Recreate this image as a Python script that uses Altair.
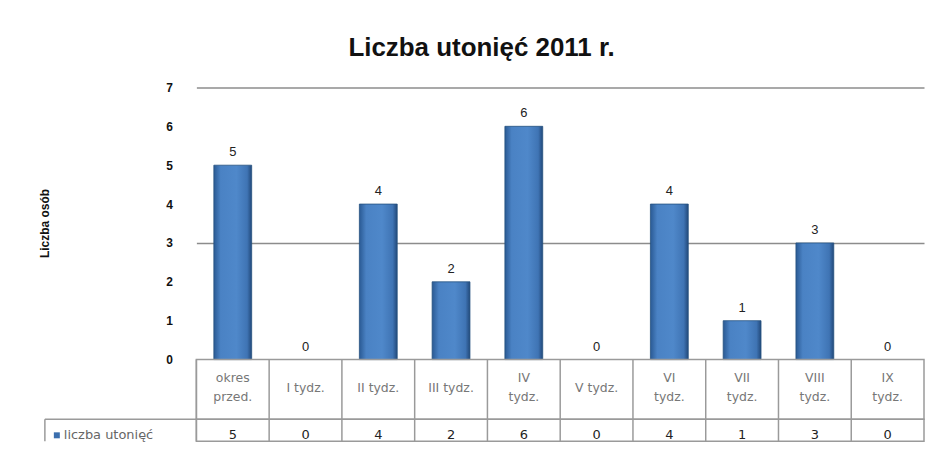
import altair as alt
import pandas as pd

TITLE = "Liczba utonięć 2011 r."
Y_TITLE = "Liczba osób"
SERIES = "liczba utonięć"
CATEGORIES = ["okres przed.", "I tydz.", "II tydz.", "III tydz.", "IV tydz.",
              "V tydz.", "VI tydz.", "VII tydz.", "VIII tydz.", "IX tydz."]
TABLE_LABELS = ["okres\nprzed.", "I tydz.", "II tydz.", "III tydz.", "IV\ntydz.",
                "V tydz.", "VI\ntydz.", "VII\ntydz.", "VIII\ntydz.", "IX\ntydz."]
VALUES = [5, 0, 4, 2, 6, 0, 4, 1, 3, 0]
Y_TICKS = [0, 1, 2, 3, 4, 5, 6, 7]
GRID_AT = [3, 7]

df = pd.DataFrame({"cat": CATEGORIES, "label": TABLE_LABELS, "value": VALUES})
legend_df = pd.DataFrame({"t": [SERIES]})

FONT = "Liberation Sans"
TFONT = "DejaVu Sans"
W = 730
LINE = "#9a9a9a"

grid_test = " || ".join(f"datum.value == {g}" for g in GRID_AT)

bar_x = alt.X("cat:N", sort=CATEGORIES, axis=None,
              scale=alt.Scale(paddingInner=0.48, paddingOuter=0.24))
bar_y = alt.Y("value:Q", scale=alt.Scale(domain=[0, 7], nice=False),
              axis=alt.Axis(values=Y_TICKS, title=Y_TITLE, grid=True,
                            gridColor={"condition": {"test": grid_test, "value": "#8c8c8c"},
                                       "value": "transparent"},
                            gridWidth=1.5, domain=False, ticks=False,
                            labelPadding=24, labelFontSize=12, labelFontWeight="bold",
                            labelColor="#111", labelFont=FONT,
                            titleFont=FONT, titleFontSize=12, titleFontWeight="bold",
                            titleColor="#111", titleX=-145, titleY=136))

grad = alt.Gradient(gradient="linear",
                    stops=[alt.GradientStop(color="#2a5a94", offset=0),
                           alt.GradientStop(color="#4a82c4", offset=0.18),
                           alt.GradientStop(color="#4f88ca", offset=0.6),
                           alt.GradientStop(color="#3f74b4", offset=0.88),
                           alt.GradientStop(color="#22497a", offset=1)],
                    x1=0, x2=1, y1=0, y2=0)

bars = alt.Chart(df).transform_filter("datum.value > 0").mark_bar(
    color=grad, stroke="#24507f", strokeWidth=0.8).encode(x=bar_x, y=bar_y)
bar_labels = alt.Chart(df).mark_text(baseline="bottom", dy=-6, fontSize=13,
                                     font=FONT, color="#222").encode(
    x=bar_x, y=bar_y, text="value:Q")

main = alt.layer(bars, bar_labels).properties(
    width=W, height=273, view=alt.ViewBackground(stroke="transparent"))

table_scale = alt.Scale(paddingInner=0, paddingOuter=0)
table_x = alt.X("cat:N", sort=CATEGORIES, scale=table_scale, axis=None)
sep_x = alt.X("cat:N", sort=CATEGORIES, scale=table_scale, axis=None, bandPosition=0)

LABEL_H = 60
VALUE_H = 22

sep1 = alt.Chart(df).mark_rule(color=LINE, strokeWidth=1.5).encode(
    x=sep_x, y=alt.value(0), y2=alt.value(LABEL_H))
single = alt.Chart(df).transform_filter("indexof(datum.label, '\\n') < 0").mark_text(
    fontSize=12.5, font=TFONT, color="#777", baseline="middle").encode(
    x=table_x, y=alt.value(29), text="label:N")
multi = alt.Chart(df).transform_filter("indexof(datum.label, '\\n') >= 0").mark_text(
    lineBreak="\n", fontSize=12.5, font=TFONT, color="#777", lineHeight=19,
    baseline="middle").encode(
    x=table_x, y=alt.value(19), text="label:N")

label_row = alt.layer(sep1, single, multi).properties(
    width=W, height=LABEL_H, view=alt.ViewBackground(stroke=LINE, strokeWidth=1.5))

sep2 = alt.Chart(df).mark_rule(color=LINE, strokeWidth=1.5).encode(
    x=sep_x, y=alt.value(0), y2=alt.value(VALUE_H))
vals = alt.Chart(df).mark_text(fontSize=13, font=TFONT, color="#222",
                               baseline="middle").encode(
    x=table_x, y=alt.value(16), text="value:Q")
leg_sq = alt.Chart(legend_df).mark_square(size=36, color="#3b6fae", opacity=1).encode(
    x=alt.value(-140), y=alt.value(16))
leg_txt = alt.Chart(legend_df).mark_text(align="left", baseline="middle", fontSize=13,
                                         font=TFONT, color="#666").encode(
    x=alt.value(-133), y=alt.value(16), text="t:N")
leg_top = alt.Chart(legend_df).mark_rule(color=LINE, strokeWidth=1.5).encode(
    x=alt.value(-152), x2=alt.value(0), y=alt.value(0))
leg_left = alt.Chart(legend_df).mark_rule(color=LINE, strokeWidth=1.5).encode(
    x=alt.value(-152), y=alt.value(0), y2=alt.value(VALUE_H))

value_row = alt.layer(sep2, vals, leg_sq, leg_txt, leg_top, leg_left).properties(
    width=W, height=VALUE_H, view=alt.ViewBackground(stroke=LINE, strokeWidth=1.5))

chart = alt.vconcat(main, label_row, value_row, spacing=0, bounds="flush").properties(
    title=alt.TitleParams(TITLE, font=FONT, fontSize=26, fontWeight="bold",
                          color="#111", anchor="middle", offset=20),
    padding={"left": 30, "top": 26, "right": 0, "bottom": 0},
    background="white",
)

chart.save("out.html", embed_options={"renderer": "svg", "actions": False})
